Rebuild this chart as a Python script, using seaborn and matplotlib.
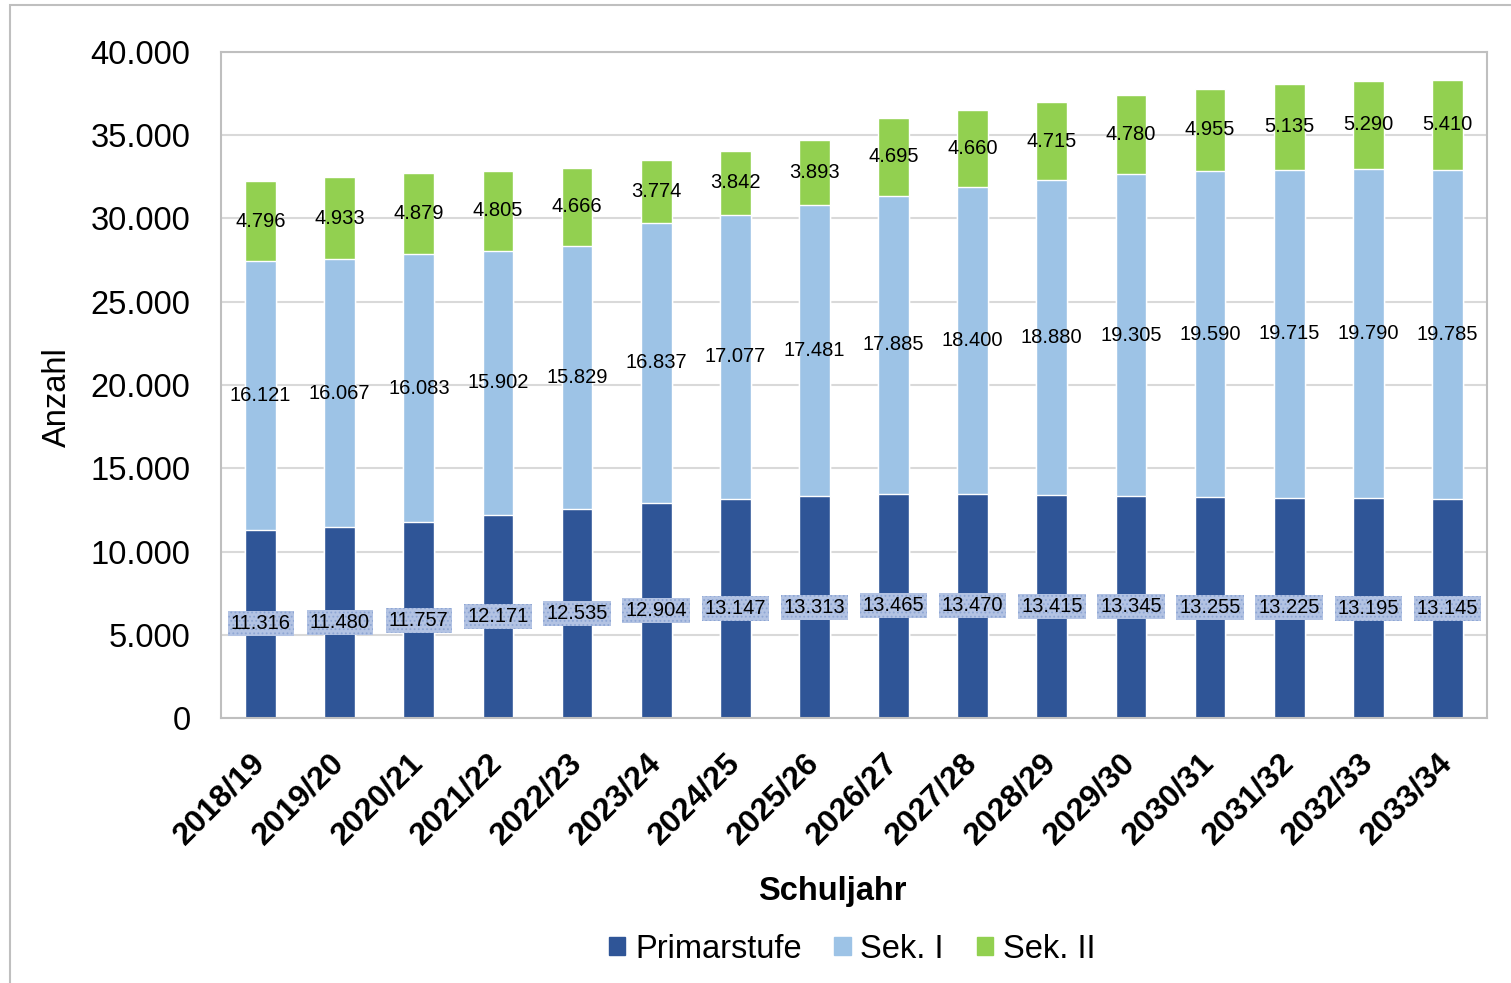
import pandas as pd
import matplotlib.pyplot as plt
import matplotlib.patches as mpatches
import seaborn as sns

schuljahre = ["2018/19", "2019/20", "2020/21", "2021/22", "2022/23", "2023/24",
              "2024/25", "2025/26", "2026/27", "2027/28", "2028/29", "2029/30",
              "2030/31", "2031/32", "2032/33", "2033/34"]
primarstufe = [11316, 11480, 11757, 12171, 12535, 12904, 13147, 13313,
               13465, 13470, 13415, 13345, 13255, 13225, 13195, 13145]
sek1 = [16121, 16067, 16083, 15902, 15829, 16837, 17077, 17481,
        17885, 18400, 18880, 19305, 19590, 19715, 19790, 19785]
sek2 = [4796, 4933, 4879, 4805, 4666, 3774, 3842, 3893,
        4695, 4660, 4715, 4780, 4955, 5135, 5290, 5410]

col_prim = "#2F5597"
col_sek1 = "#9DC3E6"
col_sek2 = "#92D050"


def fmt(v):
    return f"{v:,}".replace(",", ".")


df = pd.DataFrame({"Schuljahr": schuljahre, "Primarstufe": primarstufe,
                   "Sek. I": sek1, "Sek. II": sek2})
df["bis_sek1"] = df["Primarstufe"] + df["Sek. I"]
df["gesamt"] = df["bis_sek1"] + df["Sek. II"]

sns.set_style("white", rc={"text.color": "black", "axes.labelcolor": "black",
                           "xtick.color": "black", "ytick.color": "black"})
plt.rcParams["font.family"] = ["Liberation Sans", "DejaVu Sans"]
plt.rcParams["hatch.linewidth"] = 0.8

fig = plt.figure(figsize=(15.11, 9.83), dpi=100)
ax = fig.add_axes([221 / 1511, 1 - 718 / 983, 1266 / 1511, 666 / 983])

# stacked bars: draw cumulative totals on top of each other
sns.barplot(data=df, x="Schuljahr", y="gesamt", color=col_sek2, saturation=1,
            width=0.39, ax=ax, zorder=2)
sns.barplot(data=df, x="Schuljahr", y="bis_sek1", color=col_sek1, saturation=1,
            width=0.39, ax=ax, zorder=2)
sns.barplot(data=df, x="Schuljahr", y="Primarstufe", color=col_prim, saturation=1,
            width=0.39, ax=ax, zorder=2)

for i, row in df.iterrows():
    ax.text(i, row["Primarstufe"] / 2, fmt(row["Primarstufe"]), ha="center",
            va="center", fontsize=14.5, color="black", zorder=4,
            bbox=dict(boxstyle="square,pad=0.15", fc="#b3c3e3", ec="#8ea6d4",
                      lw=0, hatch="...."))
    ax.text(i, row["Primarstufe"] + row["Sek. I"] / 2, fmt(row["Sek. I"]),
            ha="center", va="center", fontsize=14.5, color="black", zorder=4)
    ax.text(i, row["bis_sek1"] + row["Sek. II"] / 2, fmt(row["Sek. II"]),
            ha="center", va="center", fontsize=14.5, color="black", zorder=4)

ax.set_xlim(-0.5, len(schuljahre) - 0.5)
ax.set_ylim(0, 40000)
ax.set_yticks(range(0, 40001, 5000))
ax.set_yticklabels([fmt(v) for v in range(0, 40001, 5000)])
ax.yaxis.grid(True, color="#d9d9d9", lw=1.5, zorder=0)
ax.set_axisbelow(True)
ax.tick_params(axis="y", length=0, pad=22, labelsize=23.5)
ax.tick_params(axis="x", length=0, pad=29, labelsize=23)
for lab in ax.get_xticklabels():
    lab.set_rotation(45)
    lab.set_ha("right")
    lab.set_va("center")
    lab.set_rotation_mode("anchor")
    lab.set_fontweight("bold")

for s in ax.spines.values():
    s.set_visible(True)
    s.set_color("#bfbfbf")
    s.set_linewidth(1.5)

ax.set_ylabel("Anzahl", fontsize=23.5)
ax.yaxis.set_label_coords(-0.117, 0.482)
ax.set_xlabel("Schuljahr", fontsize=23.5, fontweight="bold")
ax.xaxis.set_label_coords(0.4826, -0.237)

handles = [mpatches.Patch(color=col_prim, label="Primarstufe"),
           mpatches.Patch(color=col_sek1, label="Sek. I"),
           mpatches.Patch(color=col_sek2, label="Sek. II")]
fig.legend(handles=handles, loc="center", bbox_to_anchor=(852 / 1511, 1 - 949 / 983),
           ncol=3, frameon=False, fontsize=23.5, handlelength=0.5,
           handleheight=0.5, handletextpad=0.3, columnspacing=1.0)

fig.patches.append(mpatches.Rectangle((10 / 1511, -0.05), 1.2, 1.05 - 5 / 983,
                                      transform=fig.transFigure, fill=False,
                                      ec="#bfbfbf", lw=1.5))

fig.savefig("out.png", dpi=100)
